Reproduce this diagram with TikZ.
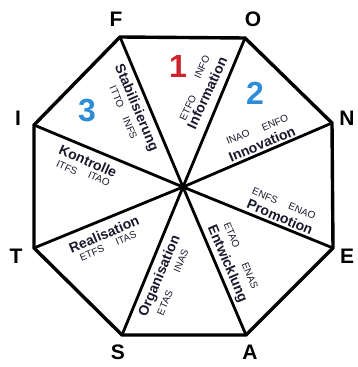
\documentclass[tikz,border=0pt]{standalone}
\usepackage{fontspec}
\setmainfont{Liberation Sans}
\usetikzlibrary{positioning}
\definecolor{numred}{RGB}{205,35,45}
\definecolor{numblue}{RGB}{45,140,215}
\definecolor{inkdark}{RGB}{25,25,45}

\begin{document}
\begin{tikzpicture}[x=1pt, y=1pt,
  rim/.style={line width=3.4pt, line join=round},
  spoke/.style={line width=2.8pt, line cap=round},
  corner/.style={font=\bfseries\fontsize{21}{21}\selectfont},
  sectnum/.style={font=\bfseries\fontsize{32}{32}\selectfont, inner sep=0pt},
  sectname/.style={font=\bfseries\fontsize{14}{14}\selectfont, text=inkdark, inner sep=0pt},
  code/.style={font=\fontsize{10}{10}\selectfont, text=inkdark, inner sep=0pt}
]
\useasboundingbox (0,0) rectangle (358,367);

% octagon corners and centre
\coordinate (C) at (183,180);
\coordinate (F) at (120,330);
\coordinate (O) at (245,329);
\coordinate (N) at (332,244);
\coordinate (E) at (333,119);
\coordinate (A) at (246,32);
\coordinate (S) at (122,32);
\coordinate (T) at (34,119);
\coordinate (I) at (34,242);

\draw[rim] (F) -- (O) -- (N) -- (E) -- (A) -- (S) -- (T) -- (I) -- cycle;
\foreach \v in {F,O,N,E,A,S,T,I}
  \draw[spoke] (C) -- (\v);

% corner letters
\node[corner] (lblF) at (116,348) {F};
\node[corner] (lblO) at (253,348) {O};
\node[corner] (lblN) at (347,249) {N};
\node[corner] (lblE) at (347,111) {E};
\node[corner] (lblA) at (250,15) {A};
\node[corner] (lblS) at (118,15) {S};
\node[corner] (lblT) at (16,111) {T};
\node[corner] (lblI) at (18,249) {I};

% sector numbers
\node[sectnum, text=numred] (one) at (178,301) {1};
\node[sectnum, text=numblue] (two) at (255,274) {2};
\node[sectnum, text=numblue] (three) at (87,256) {3};

% sector names
\node[sectname, rotate=65] (info) at (207,274) {Information};
\node[sectname, rotate=23] (inno) at (262,223) {Innovation};
\node[sectname, rotate=-23] (promo) at (280,150) {Promotion};
\node[sectname, rotate=-67] (entw) at (227,103) {Entwicklung};
\node[sectname, rotate=67] (orga) at (160,91) {Organisation};
\node[sectname, rotate=23] (real) at (104,133) {Realisation};
\node[sectname, rotate=-24] (kontr) at (88,206) {Kontrolle};
\node[sectname, rotate=-67] (stab) at (136,259) {Stabilisierung};

% codes
\node[code, rotate=65] (etfo) at (188,259) {ETFO};
\node[code, rotate=65] (infoc) at (202,300) {INFO};
\node[code, rotate=23] (inao) at (238,230) {INAO};
\node[code, rotate=23] (enfo) at (275,244) {ENFO};
\node[code, rotate=-23] (enfs) at (265,171) {ENFS};
\node[code, rotate=-23] (enao) at (302,156) {ENAO};
\node[code, rotate=-67] (etao) at (232,132) {ETAO};
\node[code, rotate=-67] (enas) at (250,91) {ENAS};
\node[code, rotate=67] (etas) at (165,64) {ETAS};
\node[code, rotate=67] (inas) at (181,106) {INAS};
\node[code, rotate=23] (etfs) at (92,114) {ETFS};
\node[code, rotate=23] (itas) at (126,129) {ITAS};
\node[code, rotate=-24] (itfs) at (67,199) {ITFS};
\node[code, rotate=-24] (itao) at (99,188) {ITAO};
\node[code, rotate=-67] (itto) at (117,270) {ITTO};
\node[code, rotate=-67] (infs) at (130,239) {INFS};
\end{tikzpicture}
\end{document}
